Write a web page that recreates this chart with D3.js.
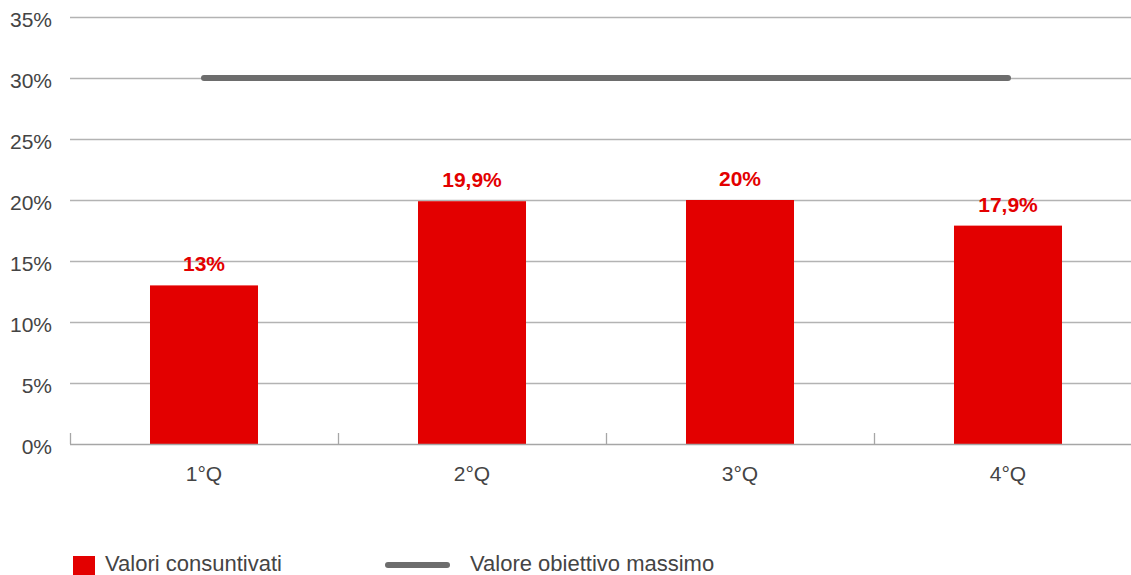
<!DOCTYPE html>
<html>
<head>
<meta charset="utf-8">
<script src="https://cdn.jsdelivr.net/npm/d3@7"></script>
<style>
  html, body { margin: 0; padding: 0; background: #fff; }
  svg { display: block; }
</style>
</head>
<body>
<svg id="chart" width="1131" height="575"></svg>
<script>
// Quarterly values (percent) and the maximum target
const quarters = ["1°Q", "2°Q", "3°Q", "4°Q"];
const actualValues = [13, 19.9, 20, 17.9];
const targetValues = [30, 30, 30, 30];
const valueLabels = ["13%", "19,9%", "20%", "17,9%"];
const yTicks = [0, 5, 10, 15, 20, 25, 30, 35];
const legendLabels = ["Valori consuntivati", "Valore obiettivo massimo"];

const svg = d3.select("#chart");
const plotLeft = 70, plotRight = 1142, plotTop = 17, plotBottom = 444;

const x = d3.scaleBand().domain(quarters).range([plotLeft, plotRight]).paddingInner(0).paddingOuter(0);
const y = d3.scaleLinear().domain([0, 35]).range([plotBottom, plotTop]);
const barW = x.bandwidth() * 0.403;

const baseFont = "'Liberation Sans', Arial, sans-serif";
const textGrey = "#444";
const red = "#e30000";

// Horizontal gridlines
svg.append("g")
  .selectAll("line")
  .data(yTicks.filter(d => d > 0))
  .join("line")
  .attr("x1", plotLeft).attr("x2", 1131)
  .attr("y1", d => Math.round(y(d)) + 0.5).attr("y2", d => Math.round(y(d)) + 0.5)
  .attr("stroke", "#b3b3b3").attr("stroke-width", 1.3);

// Y axis labels
svg.append("g")
  .selectAll("text")
  .data(yTicks)
  .join("text")
  .attr("x", 52)
  .attr("y", d => y(d) + 10)
  .attr("text-anchor", "end")
  .attr("font-family", baseFont)
  .attr("font-size", 21)
  .attr("fill", textGrey)
  .text(d => d + "%");

// Bars
svg.append("g")
  .selectAll("rect")
  .data(actualValues)
  .join("rect")
  .attr("x", (d, i) => x(quarters[i]) + (x.bandwidth() - barW) / 2)
  .attr("y", d => y(d))
  .attr("width", barW)
  .attr("height", d => y(0) - y(d))
  .attr("fill", red);

// X axis baseline and category separators
const xAxis = svg.append("g");
xAxis.append("line")
  .attr("x1", plotLeft).attr("x2", 1131)
  .attr("y1", plotBottom + 0.5).attr("y2", plotBottom + 0.5)
  .attr("stroke", "#a6a6a6").attr("stroke-width", 1.3);
xAxis.selectAll("line.sep")
  .data(quarters)
  .join("line")
  .attr("class", "sep")
  .attr("x1", d => Math.round(x(d)) + 0.5).attr("x2", d => Math.round(x(d)) + 0.5)
  .attr("y1", plotBottom - 11).attr("y2", plotBottom)
  .attr("stroke", "#a6a6a6").attr("stroke-width", 1.3);
xAxis.selectAll("text")
  .data(quarters)
  .join("text")
  .attr("x", d => x(d) + x.bandwidth() / 2)
  .attr("y", 481)
  .attr("text-anchor", "middle")
  .attr("font-family", baseFont)
  .attr("font-size", 21)
  .attr("fill", textGrey)
  .text(d => d);

// Target line
const line = d3.line()
  .x((d, i) => x(quarters[i]) + x.bandwidth() / 2)
  .y(d => y(d));
svg.append("path")
  .datum(targetValues)
  .attr("d", line)
  .attr("fill", "none")
  .attr("stroke", "#6d6d6d")
  .attr("stroke-width", 6)
  .attr("stroke-linecap", "round");

// Value labels above bars
svg.append("g")
  .selectAll("text")
  .data(actualValues)
  .join("text")
  .attr("x", (d, i) => x(quarters[i]) + x.bandwidth() / 2)
  .attr("y", d => y(d) - 14)
  .attr("text-anchor", "middle")
  .attr("font-family", baseFont)
  .attr("font-weight", "bold")
  .attr("font-size", 21)
  .attr("fill", red)
  .text((d, i) => valueLabels[i]);

// Legend
const legend = svg.append("g");
legend.append("rect")
  .attr("x", 73).attr("y", 556).attr("width", 22).attr("height", 19)
  .attr("fill", red);
legend.append("text")
  .attr("x", 105).attr("y", 571)
  .attr("font-family", baseFont)
  .attr("font-size", 22)
  .attr("fill", textGrey)
  .text(legendLabels[0]);
legend.append("line")
  .attr("x1", 388).attr("x2", 447)
  .attr("y1", 565).attr("y2", 565)
  .attr("stroke", "#6d6d6d").attr("stroke-width", 6)
  .attr("stroke-linecap", "round");
legend.append("text")
  .attr("x", 470).attr("y", 571)
  .attr("font-family", baseFont)
  .attr("font-size", 22)
  .attr("fill", textGrey)
  .text(legendLabels[1]);
</script>
</body>
</html>
